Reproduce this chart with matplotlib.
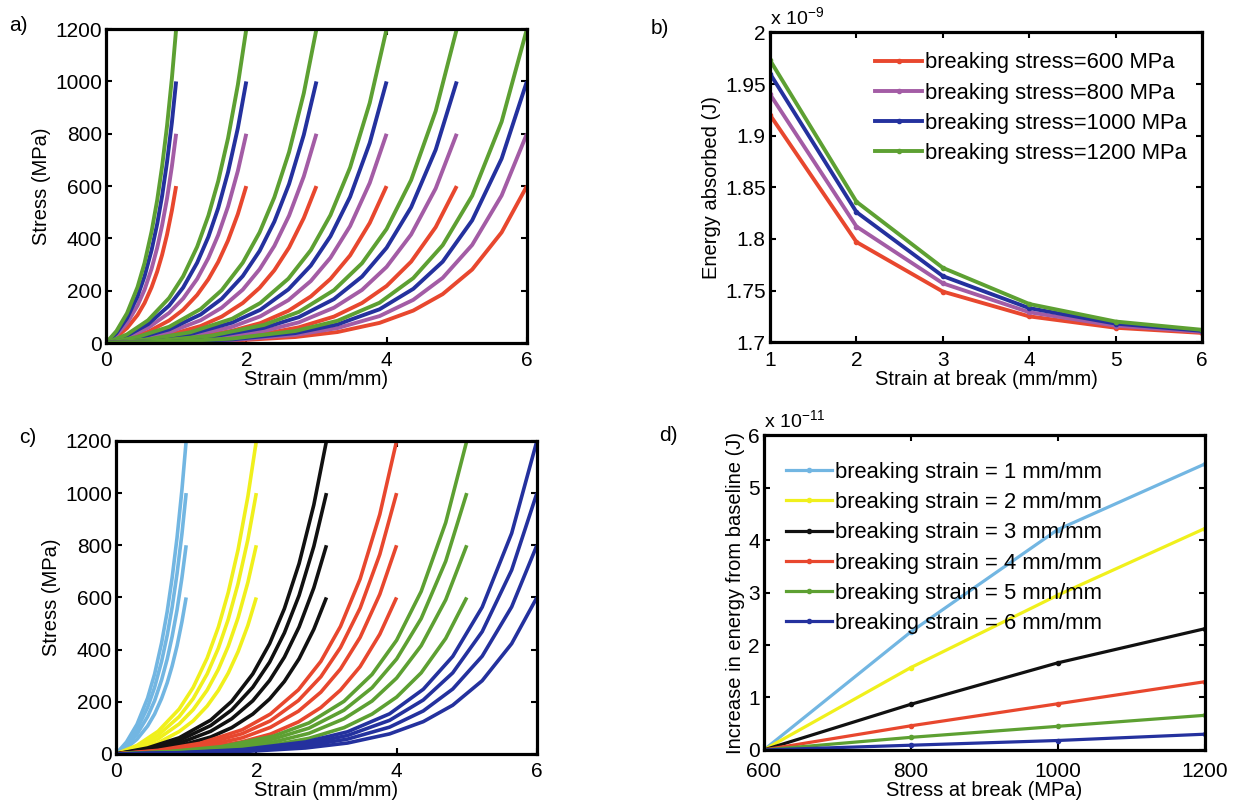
import numpy as np
import matplotlib.pyplot as plt

plt.rcParams['font.family'] = ['Liberation Sans', 'DejaVu Sans']

# breaking stress (MPa) and breaking strain (mm/mm) of each simulated fibre
break_stress = [600, 800, 1000, 1200]
break_strain = [1, 2, 3, 4, 5, 6]

# stress-strain curves read off panels a) and c), one strain list per breaking strain,
# stress rows in the order of break_stress
strain_1 = [0, 0.15, 0.3, 0.45, 0.55, 0.65, 0.73, 0.8, 0.87, 0.94, 1.0]
stress_1 = [[0, 23, 57, 107, 153, 213, 273, 337, 414, 507, 600],
            [0, 31, 76, 143, 204, 284, 364, 450, 552, 676, 800],
            [0, 38, 95, 178, 255, 355, 455, 562, 691, 844, 1000],
            [0, 46, 114, 214, 306, 426, 546, 675, 829, 1013, 1200]]

strain_2 = [0, 0.3, 0.6, 0.9, 1.1, 1.3, 1.46, 1.6, 1.74, 1.88, 2.0]
stress_2 = [[0, 17, 43, 86, 127, 184, 244, 310, 392, 493, 600],
            [0, 22, 58, 115, 170, 245, 325, 413, 522, 658, 800],
            [0, 28, 72, 143, 212, 307, 406, 516, 653, 822, 1000],
            [0, 33, 87, 172, 255, 368, 487, 619, 783, 987, 1200]]

strain_3 = [0, 0.45, 0.9, 1.35, 1.65, 1.95, 2.19, 2.4, 2.61, 2.82, 3.0]
stress_3 = [[0, 11, 31, 65, 101, 153, 211, 278, 365, 478, 600],
            [0, 15, 41, 87, 135, 204, 282, 371, 487, 637, 800],
            [0, 19, 52, 109, 169, 256, 352, 464, 608, 796, 1000],
            [0, 23, 62, 130, 202, 307, 423, 557, 730, 955, 1200]]

strain_4 = [0, 0.6, 1.2, 1.8, 2.2, 2.6, 2.92, 3.2, 3.48, 3.76, 4.0]
stress_4 = [[0, 7, 20, 47, 76, 123, 178, 245, 335, 459, 600],
            [0, 9, 27, 62, 102, 164, 237, 326, 447, 612, 800],
            [0, 12, 34, 78, 127, 205, 296, 408, 559, 765, 1000],
            [0, 14, 41, 93, 153, 246, 355, 489, 671, 918, 1200]]

strain_5 = [0, 0.75, 1.5, 2.25, 2.75, 3.25, 3.65, 4.0, 4.35, 4.7, 5.0]
stress_5 = [[0, 5, 14, 35, 60, 101, 153, 218, 311, 443, 600],
            [0, 6, 19, 46, 79, 135, 203, 291, 415, 591, 800],
            [0, 8, 24, 58, 99, 168, 254, 364, 519, 739, 1000],
            [0, 9, 28, 69, 119, 202, 305, 436, 623, 887, 1200]]

strain_6 = [0, 0.9, 1.8, 2.7, 3.3, 3.9, 4.38, 4.8, 5.22, 5.64, 6.0]
stress_6 = [[0, 3, 9, 23, 42, 77, 124, 187, 281, 423, 600],
            [0, 3, 11, 31, 57, 103, 165, 249, 375, 564, 800],
            [0, 4, 14, 38, 71, 129, 207, 311, 469, 705, 1000],
            [0, 5, 17, 46, 85, 154, 248, 374, 563, 846, 1200]]

# energy absorbed, x 1e-9 J (panel b)
energy_600 = [1.920, 1.797, 1.749, 1.725, 1.714, 1.709]
energy_800 = [1.940, 1.812, 1.757, 1.729, 1.716, 1.710]
energy_1000 = [1.960, 1.826, 1.764, 1.733, 1.718, 1.711]
energy_1200 = [1.973, 1.836, 1.772, 1.737, 1.720, 1.712]

# increase in energy from baseline, x 1e-11 J (panel d)
increase_1 = [0, 2.25, 4.20, 5.45]
increase_2 = [0, 1.57, 2.95, 4.22]
increase_3 = [0, 0.87, 1.66, 2.31]
increase_4 = [0, 0.46, 0.88, 1.30]
increase_5 = [0, 0.24, 0.45, 0.66]
increase_6 = [0, 0.09, 0.18, 0.30]

strains = [strain_1, strain_2, strain_3, strain_4, strain_5, strain_6]
stresses = [stress_1, stress_2, stress_3, stress_4, stress_5, stress_6]
energies = [energy_600, energy_800, energy_1000, energy_1200]
increases = [increase_1, increase_2, increase_3, increase_4, increase_5, increase_6]

stress_colors = ['#e8472e', '#a35ca5', '#24319e', '#5da032']
strain_colors = ['#72b6e2', '#f0f01c', '#111111', '#e8472e', '#5da032', '#24319e']

FS_TICK = 15
FS_LABEL = 14.5
FS_LEG = 15.8


def style(ax, xpad=6):
    for sp in ax.spines.values():
        sp.set_linewidth(2.3)
    ax.tick_params(direction='in', top=True, right=True, length=4, width=1.5,
                   labelsize=FS_TICK)
    ax.tick_params(axis='x', pad=xpad)
    ax.tick_params(axis='y', pad=3)


fig = plt.figure(figsize=(12.38, 8.09), dpi=100)
ax_a = fig.add_axes([0.0856, 0.576, 0.340, 0.388])
ax_b = fig.add_axes([0.622, 0.577, 0.349, 0.383])
ax_c = fig.add_axes([0.0937, 0.068, 0.340, 0.387])
ax_d = fig.add_axes([0.617, 0.073, 0.356, 0.389])

# a) coloured by breaking stress
for x, rows in zip(strains, stresses):
    for y, col in zip(rows, stress_colors):
        ax_a.plot(x, y, '-', color=col, lw=2.8, solid_capstyle='butt')

# c) coloured by breaking strain
for x, rows, col in zip(strains, stresses, strain_colors):
    for y in rows:
        ax_c.plot(x, y, '-', color=col, lw=2.6, solid_capstyle='butt')

for ax in (ax_a, ax_c):
    ax.set_xlim(0, 6)
    ax.set_ylim(0, 1200)
    ax.set_xticks([0, 2, 4, 6])
    ax.set_yticks(range(0, 1201, 200))
    ax.set_xlabel('Strain (mm/mm)', fontsize=FS_LABEL, labelpad=0)
    ax.set_ylabel('Stress (MPa)', fontsize=FS_LABEL, labelpad=3)
    style(ax)

# b) energy absorbed
for y, S, col in zip(energies, break_stress, stress_colors):
    ax_b.plot(break_strain, y, '.-', color=col, lw=2.8, ms=6,
              label='breaking stress=%d MPa' % S)
ax_b.set_xlim(1, 6)
ax_b.set_ylim(1.7, 2.0)
ax_b.set_yticks([1.7, 1.75, 1.8, 1.85, 1.9, 1.95, 2.0])
ax_b.set_yticklabels(['1.7', '1.75', '1.8', '1.85', '1.9', '1.95', '2'])
ax_b.set_xlabel('Strain at break (mm/mm)', fontsize=FS_LABEL, labelpad=0)
ax_b.set_ylabel('Energy absorbed (J)', fontsize=FS_LABEL, labelpad=3)
ax_b.text(0.0, 1.01, r'x 10$^{\mathregular{-9}}$', transform=ax_b.transAxes,
          fontsize=14, ha='left', va='bottom')
ax_b.legend(loc='upper right', bbox_to_anchor=(1.0, 0.985), frameon=False,
            fontsize=FS_LEG, handlelength=2.1, handletextpad=0.15, labelspacing=0.42,
            numpoints=1, borderaxespad=0.3)
style(ax_b)

# d) increase in energy from baseline
for y, s, col in zip(increases, break_strain, strain_colors):
    ax_d.plot(break_stress, y, '.-', color=col, lw=2.3, ms=6,
              label='breaking strain = %d mm/mm' % s)
ax_d.set_xlim(600, 1200)
ax_d.set_ylim(0, 6)
ax_d.set_xticks([600, 800, 1000, 1200])
ax_d.set_yticks(range(0, 7))
ax_d.set_xlabel('Stress at break (MPa)', fontsize=FS_LABEL, labelpad=0)
ax_d.set_ylabel('Increase in energy from baseline (J)', fontsize=FS_LABEL, labelpad=2)
ax_d.text(0.0, 1.01, r'x 10$^{\mathregular{-11}}$', transform=ax_d.transAxes,
          fontsize=14, ha='left', va='bottom')
ax_d.legend(loc='upper left', bbox_to_anchor=(0.0, 0.985), frameon=False,
            fontsize=FS_LEG, handlelength=2.1, handletextpad=0.15, labelspacing=0.42,
            numpoints=1, borderaxespad=0.6)
style(ax_d, xpad=9)

for lab, x, y in [('a)', 0.0145, 0.969), ('b)', 0.533, 0.965),
                  ('c)', 0.0226, 0.459), ('d)', 0.540, 0.462)]:
    fig.text(x, y, lab, fontsize=15, ha='center', va='center')

fig.savefig('out.png', dpi=100)
